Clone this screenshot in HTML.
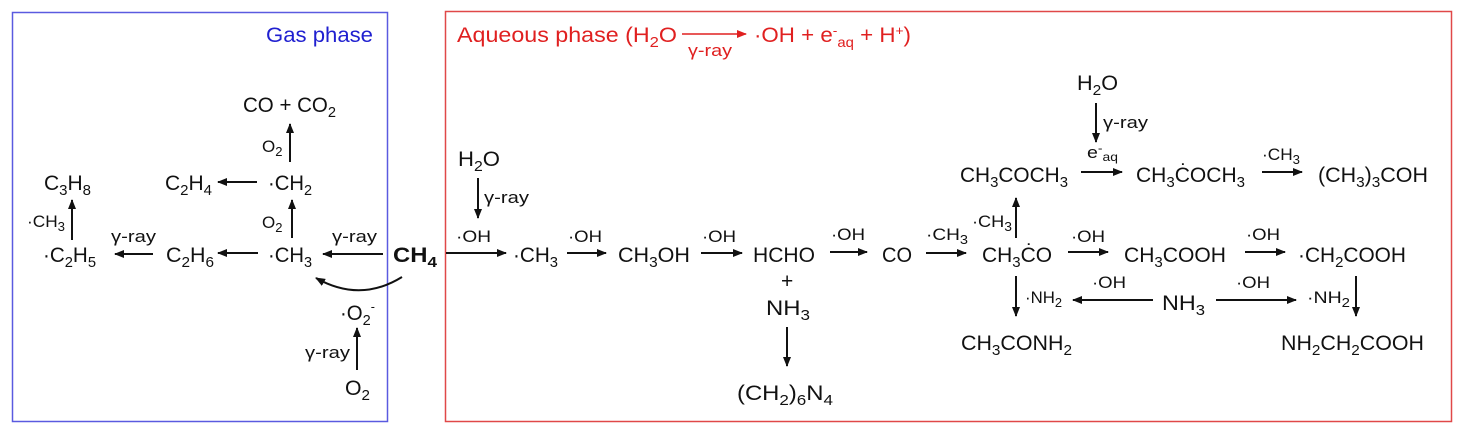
<!DOCTYPE html>
<html><head><meta charset="utf-8"><style>
html,body{margin:0;padding:0;background:#fff;}
svg{display:block;font-family:"Liberation Sans",sans-serif;}
text{fill:#111;font-size:21px;}
.s{font-size:17px;}
</style></head><body>
<svg width="1458" height="432" viewBox="0 0 1458 432">
<defs>
<marker id="a" markerWidth="10" markerHeight="8" refX="9" refY="4" orient="auto" markerUnits="userSpaceOnUse"><path d="M0,0 L10,4 L0,8 z" fill="#111"/></marker>
<marker id="r" markerWidth="10" markerHeight="8" refX="9" refY="4" orient="auto" markerUnits="userSpaceOnUse"><path d="M0,0 L10,4 L0,8 z" fill="#e02020"/></marker>
</defs>
<rect x="12.5" y="12.5" width="375" height="409" fill="none" stroke="#5a5ae0" stroke-width="1.5"/>
<rect x="445.5" y="11.5" width="1006" height="410" fill="none" stroke="#e04848" stroke-width="1.5"/>

<g stroke="#111" stroke-width="2" fill="none" marker-end="url(#a)">
<line x1="290" y1="162" x2="290" y2="124"/>
<line x1="257" y1="182" x2="218" y2="182"/>
<line x1="72" y1="240" x2="72" y2="200"/>
<line x1="153" y1="254" x2="115" y2="254"/>
<line x1="258" y1="253" x2="218" y2="253"/>
<line x1="292" y1="238" x2="292" y2="200"/>
<line x1="383" y1="254" x2="323" y2="254"/>
<path d="M402,277 Q360,303 316,278"/>
<line x1="357" y1="370" x2="357" y2="328"/>
<line x1="478" y1="178" x2="478" y2="218"/>
<line x1="446" y1="253" x2="506" y2="253"/>
<line x1="567" y1="253" x2="606" y2="253"/>
<line x1="701" y1="253" x2="742" y2="253"/>
<line x1="787" y1="327" x2="787" y2="366"/>
<line x1="830" y1="252" x2="867" y2="252"/>
<line x1="926" y1="253" x2="966" y2="253"/>
<line x1="1016" y1="238" x2="1016" y2="198"/>
<line x1="1096" y1="103" x2="1096" y2="142"/>
<line x1="1081" y1="172" x2="1122" y2="172"/>
<line x1="1262" y1="172" x2="1302" y2="172"/>
<line x1="1068" y1="252" x2="1108" y2="252"/>
<line x1="1245" y1="252" x2="1285" y2="252"/>
<line x1="1016" y1="276" x2="1016" y2="316"/>
<line x1="1153" y1="300" x2="1073" y2="300"/>
<line x1="1216" y1="300" x2="1296" y2="300"/>
<line x1="1356" y1="276" x2="1356" y2="316"/>
</g>
<line x1="682" y1="34" x2="746" y2="34" stroke="#e02020" stroke-width="1.5" marker-end="url(#r)"/>

<text x="266" y="42" style="fill:#2020d0" textLength="107" lengthAdjust="spacingAndGlyphs">Gas phase</text>
<text x="243" y="112" textLength="93" lengthAdjust="spacingAndGlyphs">CO + CO<tspan dy="5" font-size="15">2</tspan></text>
<text class="s" x="262" y="152">O<tspan dy="4" font-size="13">2</tspan></text>
<text x="268" y="190" textLength="44" lengthAdjust="spacingAndGlyphs">·CH<tspan dy="5" font-size="15">2</tspan></text>
<text x="165" y="190" textLength="47" lengthAdjust="spacingAndGlyphs">C<tspan dy="5" font-size="15">2</tspan><tspan dy="-5">H</tspan><tspan dy="5" font-size="15">4</tspan></text>
<text x="44" y="190" textLength="47" lengthAdjust="spacingAndGlyphs">C<tspan dy="5" font-size="15">3</tspan><tspan dy="-5">H</tspan><tspan dy="5" font-size="15">8</tspan></text>
<text class="s" x="27" y="227" textLength="38" lengthAdjust="spacingAndGlyphs">·CH<tspan dy="4" font-size="13">3</tspan></text>
<text x="43" y="262" textLength="53" lengthAdjust="spacingAndGlyphs">·C<tspan dy="5" font-size="15">2</tspan><tspan dy="-5">H</tspan><tspan dy="5" font-size="15">5</tspan></text>
<text class="s" x="111" y="242" textLength="45" lengthAdjust="spacingAndGlyphs">γ-ray</text>
<text x="166" y="262" textLength="48" lengthAdjust="spacingAndGlyphs">C<tspan dy="5" font-size="15">2</tspan><tspan dy="-5">H</tspan><tspan dy="5" font-size="15">6</tspan></text>
<text class="s" x="262" y="228">O<tspan dy="4" font-size="13">2</tspan></text>
<text x="268" y="262" textLength="44" lengthAdjust="spacingAndGlyphs">·CH<tspan dy="5" font-size="15">3</tspan></text>
<text class="s" x="332" y="242" textLength="45" lengthAdjust="spacingAndGlyphs">γ-ray</text>
<text x="393" y="262" font-weight="bold" textLength="44" lengthAdjust="spacingAndGlyphs">CH<tspan dy="5" font-size="15">4</tspan></text>
<text x="340" y="320" textLength="35" lengthAdjust="spacingAndGlyphs">·O<tspan dy="5" font-size="15">2</tspan><tspan dy="-14" font-size="13">-</tspan></text>
<text class="s" x="305" y="358" textLength="45" lengthAdjust="spacingAndGlyphs">γ-ray</text>
<text x="345" y="395" textLength="25" lengthAdjust="spacingAndGlyphs">O<tspan dy="5" font-size="15">2</tspan></text>

<text x="457" y="42" style="fill:#e02020" textLength="220" lengthAdjust="spacingAndGlyphs">Aqueous phase (H<tspan dy="5" font-size="15">2</tspan><tspan dy="-5">O</tspan></text>
<text class="s" x="688" y="56" style="fill:#e02020" textLength="44" lengthAdjust="spacingAndGlyphs">γ-ray</text>
<text x="754" y="42" style="fill:#e02020" textLength="157" lengthAdjust="spacingAndGlyphs">·OH + e<tspan dy="-7" font-size="13">-</tspan><tspan dy="12" font-size="14">aq</tspan><tspan dy="-5"> + H</tspan><tspan dy="-7" font-size="13">+</tspan><tspan dy="7">)</tspan></text>

<text x="458" y="166" textLength="42" lengthAdjust="spacingAndGlyphs">H<tspan dy="5" font-size="15">2</tspan><tspan dy="-5">O</tspan></text>
<text class="s" x="484" y="203" textLength="45" lengthAdjust="spacingAndGlyphs">γ-ray</text>
<text class="s" x="456" y="242" textLength="35" lengthAdjust="spacingAndGlyphs">·OH</text>
<text x="513" y="262" textLength="45" lengthAdjust="spacingAndGlyphs">·CH<tspan dy="5" font-size="15">3</tspan></text>
<text class="s" x="568" y="242" textLength="34" lengthAdjust="spacingAndGlyphs">·OH</text>
<text x="618" y="262" textLength="72" lengthAdjust="spacingAndGlyphs">CH<tspan dy="5" font-size="15">3</tspan><tspan dy="-5">OH</tspan></text>
<text class="s" x="702" y="242" textLength="34" lengthAdjust="spacingAndGlyphs">·OH</text>
<text x="753" y="262" textLength="62" lengthAdjust="spacingAndGlyphs">HCHO</text>
<text x="781" y="288">+</text>
<text x="766" y="315" textLength="44" lengthAdjust="spacingAndGlyphs">NH<tspan dy="5" font-size="15">3</tspan></text>
<text x="737" y="400" textLength="96" lengthAdjust="spacingAndGlyphs">(CH<tspan dy="5" font-size="15">2</tspan><tspan dy="-5">)</tspan><tspan dy="5" font-size="15">6</tspan><tspan dy="-5">N</tspan><tspan dy="5" font-size="15">4</tspan></text>
<text class="s" x="831" y="240" textLength="34" lengthAdjust="spacingAndGlyphs">·OH</text>
<text x="882" y="262" textLength="30" lengthAdjust="spacingAndGlyphs">CO</text>
<text class="s" x="926" y="240" textLength="42" lengthAdjust="spacingAndGlyphs">·CH<tspan dy="4" font-size="13">3</tspan></text>

<text x="982" y="262" textLength="70" lengthAdjust="spacingAndGlyphs">CH<tspan dy="5" font-size="15">3</tspan><tspan dy="-5">ĊO</tspan></text>
<text class="s" x="972" y="227" textLength="40" lengthAdjust="spacingAndGlyphs">·CH<tspan dy="4" font-size="13">3</tspan></text>
<text x="960" y="182" textLength="108" lengthAdjust="spacingAndGlyphs">CH<tspan dy="5" font-size="15">3</tspan><tspan dy="-5">COCH</tspan><tspan dy="5" font-size="15">3</tspan></text>
<text x="1077" y="90" textLength="41" lengthAdjust="spacingAndGlyphs">H<tspan dy="5" font-size="15">2</tspan><tspan dy="-5">O</tspan></text>
<text class="s" x="1103" y="128" textLength="45" lengthAdjust="spacingAndGlyphs">γ-ray</text>
<text class="s" x="1087" y="158" textLength="31" lengthAdjust="spacingAndGlyphs">e<tspan dy="-6" font-size="12">-</tspan><tspan dy="9" font-size="12">aq</tspan></text>
<text x="1136" y="182" textLength="109" lengthAdjust="spacingAndGlyphs">CH<tspan dy="5" font-size="15">3</tspan><tspan dy="-5">ĊOCH</tspan><tspan dy="5" font-size="15">3</tspan></text>
<text class="s" x="1262" y="160" textLength="38" lengthAdjust="spacingAndGlyphs">·CH<tspan dy="4" font-size="13">3</tspan></text>
<text x="1318" y="182" textLength="110" lengthAdjust="spacingAndGlyphs">(CH<tspan dy="5" font-size="15">3</tspan><tspan dy="-5">)</tspan><tspan dy="5" font-size="15">3</tspan><tspan dy="-5">COH</tspan></text>
<text class="s" x="1071" y="242" textLength="34" lengthAdjust="spacingAndGlyphs">·OH</text>
<text x="1124" y="262" textLength="102" lengthAdjust="spacingAndGlyphs">CH<tspan dy="5" font-size="15">3</tspan><tspan dy="-5">COOH</tspan></text>
<text class="s" x="1246" y="240" textLength="34" lengthAdjust="spacingAndGlyphs">·OH</text>
<text x="1298" y="262" textLength="108" lengthAdjust="spacingAndGlyphs">·CH<tspan dy="5" font-size="15">2</tspan><tspan dy="-5">COOH</tspan></text>
<text class="s" x="1025" y="303" textLength="37" lengthAdjust="spacingAndGlyphs">·NH<tspan dy="4" font-size="13">2</tspan></text>
<text class="s" x="1092" y="288" textLength="34" lengthAdjust="spacingAndGlyphs">·OH</text>
<text x="1162" y="310" textLength="43" lengthAdjust="spacingAndGlyphs">NH<tspan dy="5" font-size="15">3</tspan></text>
<text class="s" x="1236" y="288" textLength="34" lengthAdjust="spacingAndGlyphs">·OH</text>
<text class="s" x="1307" y="303" textLength="43" lengthAdjust="spacingAndGlyphs">·NH<tspan dy="4" font-size="13">2</tspan></text>
<text x="961" y="350" textLength="111" lengthAdjust="spacingAndGlyphs">CH<tspan dy="5" font-size="15">3</tspan><tspan dy="-5">CONH</tspan><tspan dy="5" font-size="15">2</tspan></text>
<text x="1281" y="350" textLength="143" lengthAdjust="spacingAndGlyphs">NH<tspan dy="5" font-size="15">2</tspan><tspan dy="-5">CH</tspan><tspan dy="5" font-size="15">2</tspan><tspan dy="-5">COOH</tspan></text>
</svg>
</body></html>
